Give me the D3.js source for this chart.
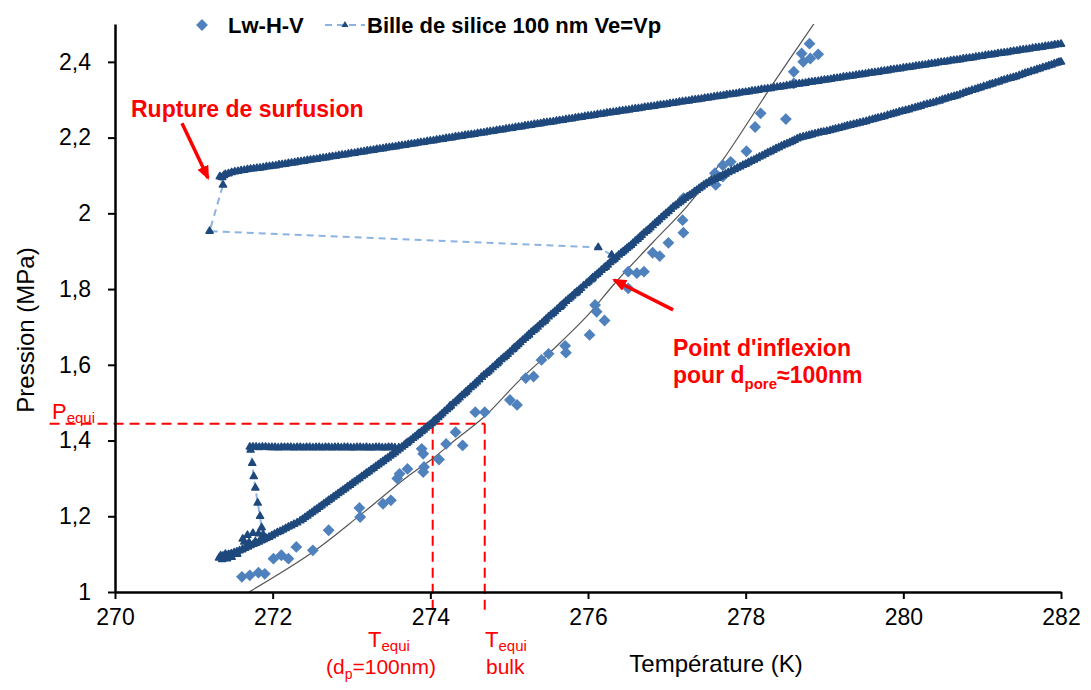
<!DOCTYPE html>
<html lang="fr">
<head>
<meta charset="utf-8">
<title>Pression / Température</title>
<script src="https://cdn.jsdelivr.net/npm/d3@7"></script>
<style>
  body { margin: 0; background: #fff; }
  svg { font-family: "Liberation Sans", Arial, sans-serif; }
</style>
</head>
<body>
<script>
var w = 1091, h = 690;

var xTicks = [270, 272, 274, 276, 278, 280, 282];
var yTicks = [1, 1.2, 1.4, 1.6, 1.8, 2, 2.2, 2.4];
var legendLabels = ["Lw-H-V", "Bille de silice 100 nm Ve=Vp"];

// "Bille de silice" trace
var upperBranch = [[282.00,2.447],[281.96,2.446],[281.92,2.445],[281.88,2.443],[281.84,2.442],[281.80,2.441],[281.76,2.439],[281.72,2.438],[281.68,2.437],[281.64,2.436],[281.60,2.434],[281.56,2.433],[281.52,2.432],[281.48,2.431],[281.44,2.429],[281.40,2.428],[281.36,2.427],[281.32,2.425],[281.28,2.424],[281.24,2.423],[281.20,2.422],[281.16,2.420],[281.12,2.419],[281.08,2.418],[281.04,2.417],[281.00,2.415],
  [280.96,2.414],[280.92,2.413],[280.88,2.411],[280.84,2.410],[280.80,2.409],[280.76,2.408],[280.72,2.406],[280.68,2.405],[280.64,2.404],[280.60,2.403],[280.56,2.401],[280.52,2.400],[280.48,2.399],[280.44,2.398],[280.40,2.396],[280.36,2.395],[280.32,2.394],[280.28,2.392],[280.24,2.391],[280.20,2.390],[280.16,2.389],[280.12,2.387],[280.08,2.386],[280.04,2.385],[280.00,2.384],
  [279.96,2.382],[279.92,2.381],[279.88,2.380],[279.84,2.379],[279.80,2.377],[279.76,2.376],[279.72,2.375],[279.68,2.373],[279.64,2.372],[279.60,2.371],[279.56,2.370],[279.52,2.368],[279.48,2.367],[279.44,2.366],[279.40,2.365],[279.36,2.363],[279.32,2.362],[279.28,2.361],[279.24,2.360],[279.20,2.358],[279.16,2.357],[279.12,2.356],[279.08,2.354],[279.04,2.353],[279.00,2.352],
  [278.96,2.351],[278.92,2.349],[278.88,2.348],[278.84,2.347],[278.80,2.346],[278.76,2.344],[278.72,2.343],[278.68,2.342],[278.64,2.341],[278.60,2.339],[278.56,2.338],[278.52,2.337],[278.48,2.335],[278.44,2.334],[278.40,2.333],[278.36,2.332],[278.32,2.330],[278.28,2.329],[278.24,2.328],[278.20,2.327],[278.16,2.325],[278.12,2.324],[278.08,2.323],[278.04,2.321],[278.00,2.320],
  [277.96,2.319],[277.92,2.318],[277.88,2.316],[277.84,2.315],[277.80,2.314],[277.76,2.313],[277.72,2.311],[277.68,2.310],[277.64,2.309],[277.60,2.308],[277.56,2.306],[277.52,2.305],[277.48,2.304],[277.44,2.302],[277.40,2.301],[277.36,2.300],[277.32,2.299],[277.28,2.297],[277.24,2.296],[277.20,2.295],[277.16,2.294],[277.12,2.292],[277.08,2.291],[277.04,2.290],[277.00,2.288],
  [276.96,2.287],[276.92,2.286],[276.88,2.285],[276.84,2.283],[276.80,2.282],[276.76,2.281],[276.72,2.280],[276.68,2.278],[276.64,2.277],[276.60,2.276],[276.56,2.275],[276.52,2.273],[276.48,2.272],[276.44,2.271],[276.40,2.270],[276.36,2.268],[276.32,2.267],[276.28,2.266],[276.24,2.265],[276.20,2.263],[276.16,2.262],[276.12,2.261],[276.08,2.259],[276.04,2.258],[276.00,2.257],
  [275.96,2.256],[275.92,2.254],[275.88,2.253],[275.84,2.252],[275.80,2.250],[275.76,2.249],[275.72,2.248],[275.68,2.246],[275.64,2.245],[275.60,2.244],[275.56,2.242],[275.52,2.241],[275.48,2.240],[275.44,2.239],[275.40,2.237],[275.36,2.236],[275.32,2.235],[275.28,2.233],[275.24,2.232],[275.20,2.231],[275.16,2.229],[275.12,2.228],[275.08,2.227],[275.04,2.225],[275.00,2.224],
  [274.96,2.223],[274.92,2.221],[274.88,2.220],[274.84,2.219],[274.80,2.217],[274.76,2.216],[274.72,2.215],[274.68,2.213],[274.64,2.212],[274.60,2.211],[274.56,2.209],[274.52,2.208],[274.48,2.207],[274.44,2.206],[274.40,2.204],[274.36,2.203],[274.32,2.202],[274.28,2.200],[274.24,2.199],[274.20,2.198],[274.16,2.196],[274.12,2.195],[274.08,2.194],[274.04,2.192],[274.00,2.191],
  [273.96,2.190],[273.92,2.188],[273.88,2.187],[273.84,2.186],[273.80,2.184],[273.76,2.183],[273.72,2.182],[273.68,2.180],[273.64,2.179],[273.60,2.178],[273.56,2.176],[273.52,2.175],[273.48,2.174],[273.44,2.173],[273.40,2.171],[273.36,2.170],[273.32,2.169],[273.28,2.167],[273.24,2.166],[273.20,2.165],[273.16,2.163],[273.12,2.162],[273.08,2.161],[273.04,2.159],[273.00,2.158],
  [272.96,2.157],[272.92,2.155],[272.88,2.154],[272.84,2.153],[272.80,2.151],[272.76,2.150],[272.72,2.149],[272.68,2.147],[272.64,2.146],[272.60,2.145],[272.56,2.143],[272.52,2.142],[272.48,2.141],[272.44,2.140],[272.40,2.138],[272.36,2.137],[272.32,2.136],[272.28,2.134],[272.24,2.133],[272.20,2.132],[272.16,2.130],[272.12,2.129],[272.08,2.128],[272.04,2.126],[272.00,2.125],
  [271.96,2.124],[271.92,2.123],[271.88,2.121],[271.84,2.120],[271.80,2.119],[271.76,2.118],[271.72,2.117],[271.68,2.116],[271.64,2.114],[271.60,2.113],[271.56,2.111],[271.52,2.110],[271.48,2.108],[271.44,2.105],[271.40,2.103],[271.38,2.100],[271.36,2.095],[271.33,2.097]];

var ruptureJump = [[271.37,2.075],[271.20,1.953],[276.13,1.910],[276.30,1.890]];

var descendingBranch = [[276.22,1.858],[276.05,1.827],[275.85,1.790],[275.65,1.754],[275.45,1.716],[275.25,1.679],[275.05,1.641],[274.85,1.604],[274.65,1.567],[274.45,1.528],[274.25,1.491],[274.05,1.452],[273.85,1.418],[273.70,1.393],[273.60,1.381]];

var plateau = [[273.55,1.381],[273.51,1.382],[273.47,1.382],[273.43,1.381],[273.39,1.381],[273.35,1.382],[273.31,1.382],[273.27,1.381],[273.23,1.381],[273.19,1.382],[273.15,1.381],[273.11,1.382],[273.07,1.382],[273.03,1.381],[272.99,1.381],[272.95,1.382],[272.91,1.382],[272.87,1.381],[272.83,1.382],[272.79,1.382],[272.75,1.381],[272.71,1.382],[272.67,1.382],[272.63,1.381],
  [272.59,1.382],[272.55,1.382],[272.51,1.381],[272.47,1.382],[272.43,1.382],[272.39,1.381],[272.35,1.382],[272.31,1.382],[272.27,1.381],[272.23,1.382],[272.19,1.382],[272.15,1.382],[272.11,1.382],[272.07,1.381],[272.03,1.382],[271.99,1.382],[271.95,1.382],[271.91,1.383],[271.87,1.383],[271.83,1.382],[271.79,1.383],[271.75,1.383],[271.71,1.383]];

var plateauDrop = [[271.72,1.375],[271.74,1.340],[271.76,1.305],[271.78,1.275],[271.81,1.235],[271.84,1.200],[271.86,1.170],[271.88,1.152]];

var smallLoop = [[271.82,1.154],[271.75,1.155],[271.68,1.150],[271.62,1.140],[271.64,1.132],[271.70,1.131],[271.78,1.133],[271.85,1.136]];

var lowCluster = [[271.55,1.100],[271.48,1.092],[271.42,1.088],[271.36,1.086],[271.32,1.090],[271.34,1.096],[271.40,1.100],[271.46,1.098]];

var ascendingBranch = [[271.37,1.095],[271.405,1.097],[271.44,1.099],[271.475,1.101],[271.51,1.104],[271.545,1.106],[271.58,1.109],[271.615,1.112],[271.65,1.116],[271.685,1.119],[271.72,1.123],[271.755,1.126],[271.79,1.129],[271.825,1.132],[271.86,1.136],[271.89,1.139],[271.92,1.142],[271.955,1.145],[271.99,1.149],[272.025,1.153],[272.06,1.157],[272.095,1.160],[272.13,1.164],[272.165,1.168],[272.20,1.172],[272.235,1.175],[272.27,1.179],[272.31,1.183],[272.35,1.188],
  [272.38,1.192],[272.41,1.197],[272.44,1.201],[272.47,1.206],[272.50,1.210],[272.53,1.215],[272.56,1.219],[272.59,1.224],[272.62,1.228],[272.65,1.233],[272.68,1.237],[272.71,1.242],[272.74,1.246],[272.77,1.251],[272.80,1.255],[272.83,1.260],[272.86,1.264],[272.89,1.269],[272.92,1.273],[272.95,1.278],[272.98,1.282],[273.01,1.287],[273.04,1.291],[273.07,1.296],[273.10,1.300],[273.13,1.305],[273.16,1.309],[273.19,1.314],[273.22,1.318],[273.25,1.323],[273.28,1.327],[273.31,1.332],[273.34,1.336],[273.37,1.341],[273.40,1.345],[273.43,1.350],[273.46,1.354],[273.49,1.359],[273.52,1.363],[273.55,1.368],[273.58,1.373],[273.61,1.378],
  [273.64,1.383],[273.67,1.388],[273.695,1.392],[273.72,1.396],[273.75,1.401],[273.78,1.406],[273.805,1.410],[273.83,1.414],[273.86,1.419],[273.89,1.424],[273.915,1.428],[273.94,1.433],[273.965,1.437],[273.99,1.441],[274.015,1.445],[274.04,1.450],
  [274.07,1.456],[274.10,1.461],[274.125,1.466],[274.15,1.471],[274.18,1.477],[274.21,1.482],[274.235,1.487],[274.26,1.492],[274.29,1.498],[274.32,1.503],[274.345,1.508],[274.37,1.513],[274.40,1.519],[274.43,1.524],[274.455,1.529],[274.48,1.534],[274.51,1.540],[274.54,1.545],[274.565,1.550],[274.59,1.555],[274.62,1.561],[274.65,1.567],[274.68,1.573],[274.71,1.578],
  [274.735,1.582],[274.76,1.587],[274.79,1.593],[274.82,1.598],[274.845,1.603],[274.87,1.608],[274.90,1.614],[274.93,1.619],[274.955,1.623],[274.98,1.628],[275.01,1.634],[275.04,1.640],[275.065,1.645],[275.09,1.649],[275.115,1.654],[275.14,1.659],[275.17,1.665],[275.20,1.670],[275.225,1.675],[275.25,1.680],[275.28,1.686],[275.31,1.691],[275.335,1.695],[275.36,1.700],[275.39,1.706],[275.42,1.711],[275.445,1.716],[275.47,1.721],[275.50,1.727],[275.53,1.732],[275.555,1.736],[275.58,1.741],[275.61,1.747],[275.64,1.752],[275.665,1.757],[275.69,1.762],[275.72,1.768],[275.75,1.773],[275.775,1.777],[275.80,1.782],[275.83,1.788],[275.86,1.793],[275.885,1.797],[275.91,1.802],[275.945,1.809],[275.98,1.815],
  [276.005,1.819],[276.03,1.824],[276.06,1.830],[276.09,1.835],[276.115,1.839],[276.14,1.844],[276.17,1.850],[276.20,1.855],[276.225,1.859],[276.25,1.864],[276.28,1.870],[276.31,1.875],[276.335,1.879],[276.36,1.884],[276.39,1.890],[276.42,1.895],[276.445,1.899],[276.47,1.903],[276.495,1.908],[276.52,1.912],[276.545,1.916],[276.57,1.921],
  [276.60,1.927],[276.63,1.932],[276.655,1.937],[276.68,1.942],[276.71,1.948],[276.74,1.953],[276.765,1.957],[276.79,1.962],[276.82,1.968],[276.85,1.974],[276.875,1.978],[276.90,1.983],[276.93,1.989],[276.96,1.994],[276.99,2.000],[277.02,2.005],[277.05,2.011],[277.08,2.017],
  [277.11,2.021],[277.14,2.026],[277.17,2.030],[277.20,2.035],[277.23,2.040],[277.26,2.044],[277.29,2.048],[277.32,2.052],[277.35,2.057],[277.38,2.061],[277.41,2.066],[277.44,2.070],[277.47,2.075],[277.50,2.079],[277.535,2.083],[277.57,2.086],[277.605,2.090],[277.64,2.093],[277.675,2.097],[277.71,2.100],[277.745,2.104],[277.78,2.108],[277.82,2.112],[277.86,2.116],[277.895,2.120],[277.93,2.123],[277.965,2.127],[278.00,2.130],[278.035,2.134],[278.07,2.138],[278.105,2.141],[278.14,2.145],[278.175,2.149],[278.21,2.152],[278.245,2.156],[278.28,2.160],[278.315,2.163],[278.35,2.167],
  [278.385,2.171],[278.42,2.174],[278.455,2.178],[278.49,2.181],[278.525,2.184],[278.56,2.187],[278.59,2.190],[278.62,2.193],[278.655,2.197],[278.69,2.200],
  [278.73,2.202],[278.77,2.204],[278.805,2.206],[278.84,2.208],[278.88,2.210],[278.92,2.212],[278.955,2.214],[278.99,2.215],[279.03,2.217],[279.07,2.219],[279.105,2.221],[279.14,2.223],[279.18,2.225],[279.22,2.227],[279.255,2.229],[279.29,2.231],[279.33,2.233],[279.37,2.235],[279.41,2.237],[279.45,2.239],[279.49,2.241],[279.53,2.243],
  [279.57,2.246],[279.61,2.248],[279.645,2.250],[279.68,2.252],[279.72,2.254],[279.76,2.256],[279.80,2.259],[279.84,2.261],[279.875,2.263],[279.91,2.265],[279.95,2.268],[279.99,2.270],[280.03,2.272],[280.07,2.274],[280.11,2.277],[280.15,2.279],[280.185,2.281],[280.22,2.283],[280.26,2.286],[280.30,2.288],[280.34,2.290],[280.38,2.292],
  [280.42,2.295],[280.46,2.297],[280.495,2.300],[280.53,2.302],[280.57,2.305],[280.61,2.307],[280.645,2.309],[280.68,2.311],[280.72,2.314],[280.76,2.317],[280.795,2.320],[280.83,2.322],[280.87,2.325],[280.91,2.327],[280.945,2.330],[280.98,2.332],[281.02,2.335],[281.06,2.337],[281.095,2.340],[281.13,2.342],[281.17,2.345],[281.21,2.347],[281.245,2.350],[281.28,2.352],[281.32,2.355],[281.36,2.357],[281.395,2.359],[281.43,2.361],[281.47,2.364],[281.51,2.367],[281.545,2.370],[281.58,2.372],[281.62,2.375],[281.66,2.377],[281.695,2.380],[281.73,2.382],[281.77,2.385],[281.81,2.387],[281.845,2.390],[281.88,2.392],[281.915,2.395],[281.95,2.397],[281.975,2.399],[282.00,2.400]];

// Lw-H-V points
var lwhv = [[271.61,1.040],[271.71,1.044],[271.82,1.051],[271.90,1.048],
  [272.01,1.088],[272.11,1.097],[272.20,1.088],[272.30,1.119],[272.51,1.110],[272.71,1.163],
  [273.10,1.222],[273.11,1.198],[273.40,1.233],[273.50,1.242],[273.58,1.300],[273.61,1.312],[273.71,1.325],
  [273.89,1.378],[273.91,1.365],[273.92,1.330],[273.91,1.317],
  [274.11,1.350],[274.20,1.391],[274.32,1.422],[274.41,1.387],
  [274.57,1.475],[274.69,1.475],[275.01,1.507],[275.10,1.494],[275.21,1.565],[275.31,1.569],[275.41,1.613],[275.50,1.629],[275.71,1.650],[275.72,1.632],
  [276.02,1.679],[276.09,1.758],[276.11,1.740],[276.21,1.717],[276.51,1.802],[276.51,1.846],[276.62,1.842],[276.71,1.846],[276.82,1.896],[276.91,1.887],[277.02,1.922],
  [277.21,1.949],[277.20,1.982],[277.21,2.040],
  [277.61,2.106],[277.62,2.075],[277.71,2.097],[277.71,2.127],[277.81,2.136],[278.01,2.164],[278.12,2.228],[278.19,2.264],[278.51,2.249],
  [278.61,2.343],[278.61,2.374],[278.71,2.422],[278.73,2.400],[278.81,2.448],[278.82,2.409],[278.92,2.420]];

// thin black equilibrium curve
var bulkCurve = [[271.70,1.000],[272.52,1.107],[273.11,1.203],[273.70,1.303],[274.04,1.354],[274.33,1.404],[274.68,1.462],[275.14,1.561],[275.56,1.641],[275.98,1.727],[276.36,1.820],[276.83,1.925],[277.25,2.017],[277.71,2.141],[278.35,2.343],[278.88,2.505]];

// annotation values
var pEqui = 1.444, tEquiPore = 274.03, tEquiBulk = 274.69;

var billeSeries = [].concat(upperBranch, ruptureJump, descendingBranch, plateau, plateauDrop, smallLoop, lowCluster, ascendingBranch);

var x = d3.scaleLinear().domain([270, 282]).range([115, 1061]);
var y = d3.scaleLinear().domain([1, 2.5]).range([592, 24]);

var svg = d3.select("body").append("svg")
    .attr("width", w)
    .attr("height", h);

var defs = svg.append("defs");
defs.append("clipPath").attr("id", "plot")
  .append("rect")
    .attr("x", x(270)).attr("y", y(2.5))
    .attr("width", x(282) - x(270)).attr("height", y(1) - y(2.5));
defs.append("marker")
    .attr("id", "redhead")
    .attr("markerUnits", "userSpaceOnUse")
    .attr("viewBox", "0 0 14 12")
    .attr("refX", 12).attr("refY", 6)
    .attr("markerWidth", 14).attr("markerHeight", 12)
    .attr("orient", "auto")
  .append("path")
    .attr("d", "M0,0 L14,6 L0,12 Z")
    .attr("fill", "#ff0000");

// red dashed guide lines
var red = "#ff0000";
svg.append("line")
    .attr("x1", x(269.17)).attr("x2", x(tEquiBulk))
    .attr("y1", y(pEqui)).attr("y2", y(pEqui))
    .attr("stroke", red).attr("stroke-width", 2).attr("stroke-dasharray", "10,6");
[tEquiPore, tEquiBulk].forEach(function(t) {
  svg.append("line")
      .attr("x1", x(t)).attr("x2", x(t))
      .attr("y1", y(pEqui)).attr("y2", y(0.948))
      .attr("stroke", red).attr("stroke-width", 2).attr("stroke-dasharray", "10,6");
});

// black curve
var line = d3.line()
    .x(function(d) { return x(d[0]); })
    .y(function(d) { return y(d[1]); });

svg.append("path")
    .datum(bulkCurve)
    .attr("clip-path", "url(#plot)")
    .attr("d", line.curve(d3.curveCatmullRom))
    .attr("fill", "none")
    .attr("stroke", "#555")
    .attr("stroke-width", 1.2);

// diamonds
var diamond = d3.symbol().type(d3.symbolSquare).size(70);
svg.selectAll("path.lw")
    .data(lwhv)
    .enter()
    .append("path")
    .attr("class", "lw")
    .attr("d", diamond)
    .attr("transform", function(d) {
      return "translate(" + x(d[0]) + "," + y(d[1]) + ") rotate(45)";
    })
    .attr("fill", "#4f81bd");

// dashed connecting line of the silica trace
svg.append("path")
    .datum(billeSeries)
    .attr("d", d3.line().x(function(d) { return x(d[0]); }).y(function(d) { return y(d[1]); }))
    .attr("fill", "none")
    .attr("stroke", "#8db3e2")
    .attr("stroke-width", 2)
    .attr("stroke-dasharray", "7,5");

var tri = d3.symbol().type(d3.symbolTriangle).size(22);
svg.selectAll("path.bille")
    .data(billeSeries)
    .enter()
    .append("path")
    .attr("class", "bille")
    .attr("d", tri)
    .attr("transform", function(d) { return "translate(" + x(d[0]) + "," + y(d[1]) + ")"; })
    .attr("fill", "#1f497d")
    .attr("stroke", "#1f497d")
    .attr("stroke-width", 1.5)
    .attr("stroke-linejoin", "round");

// axes
var xAxis = d3.axisBottom(x).tickValues(xTicks).tickSize(7).tickSizeOuter(0).tickPadding(10);
var yAxis = d3.axisLeft(y).tickValues(yTicks).tickSize(7).tickSizeOuter(0).tickPadding(17)
    .tickFormat(function(d) { return String(d).replace(".", ","); });

var gx = svg.append("g").attr("transform", "translate(0," + y(1) + ")").call(xAxis);
var gy = svg.append("g").attr("transform", "translate(" + x(270) + ",0)").call(yAxis);
[gx, gy].forEach(function(g) {
  g.select(".domain").attr("stroke", "#000").attr("stroke-width", 2.5);
  g.selectAll(".tick line").attr("stroke", "#000").attr("stroke-width", 2);
  g.selectAll(".tick text").attr("fill", "#000")
    .style("font-size", "23px")
    .style("font-family", "'Liberation Sans', Arial, sans-serif");
});

// axis titles
svg.append("text")
    .attr("x", 716).attr("y", 672)
    .attr("text-anchor", "middle")
    .style("font-size", "24px")
    .text("Température (K)");
svg.append("text")
    .attr("transform", "translate(34,330) rotate(-90)")
    .attr("text-anchor", "middle")
    .style("font-size", "24px")
    .text("Pression (MPa)");

// legend
var lg = svg.append("g");
lg.append("path").attr("d", diamond)
    .attr("transform", "translate(202,25) rotate(45)")
    .attr("fill", "#4f81bd");
lg.append("text").attr("x", 228).attr("y", 33)
    .style("font-size", "22px").style("font-weight", "bold")
    .text(legendLabels[0]);
lg.append("line").attr("x1", 325).attr("x2", 365).attr("y1", 25).attr("y2", 25)
    .attr("stroke", "#8db3e2").attr("stroke-width", 2).attr("stroke-dasharray", "7,5");
lg.append("path").attr("d", tri)
    .attr("transform", "translate(345,25)")
    .attr("fill", "#1f497d");
lg.append("text").attr("x", 367).attr("y", 33)
    .style("font-size", "22px").style("font-weight", "bold")
    .text(legendLabels[1]);

// red annotations
svg.append("text")
    .attr("x", 131).attr("y", 117)
    .attr("fill", red)
    .style("font-size", "23px").style("font-weight", "bold")
    .text("Rupture de surfusion");
svg.append("line")
    .attr("x1", x(270.85)).attr("y1", y(2.238))
    .attr("x2", x(271.18)).attr("y2", y(2.093))
    .attr("stroke", red).attr("stroke-width", 3.5)
    .attr("marker-end", "url(#redhead)");

svg.append("line")
    .attr("x1", x(277.08)).attr("y1", y(1.745))
    .attr("x2", x(276.33)).attr("y2", y(1.824))
    .attr("stroke", red).attr("stroke-width", 3.5)
    .attr("marker-end", "url(#redhead)");
var pi = svg.append("text")
    .attr("fill", red)
    .style("font-size", "23px").style("font-weight", "bold");
pi.append("tspan").attr("x", 673).attr("y", 356).text("Point d'inflexion");
pi.append("tspan").attr("x", 673).attr("y", 383).text("pour d");
pi.append("tspan").attr("dy", 6).style("font-size", "15px").text("pore");
pi.append("tspan").attr("dy", -6).text("≈100nm");

var pe = svg.append("text").attr("fill", red).attr("x", 52).attr("y", 419);
pe.append("tspan").style("font-size", "22px").text("P");
pe.append("tspan").attr("dy", 4).style("font-size", "15px").text("equi");

var t1 = svg.append("text").attr("fill", red).attr("x", 368).attr("y", 647);
t1.append("tspan").style("font-size", "22px").text("T");
t1.append("tspan").attr("dy", 4).style("font-size", "15px").text("equi");
var t1b = svg.append("text").attr("fill", red).attr("x", 326).attr("y", 674).style("font-size", "21px");
t1b.append("tspan").text("(d");
t1b.append("tspan").attr("dy", 5).style("font-size", "14px").text("p");
t1b.append("tspan").attr("dy", -5).text("=100nm)");

var t2 = svg.append("text").attr("fill", red).attr("x", 485).attr("y", 647);
t2.append("tspan").style("font-size", "22px").text("T");
t2.append("tspan").attr("dy", 4).style("font-size", "15px").text("equi");
svg.append("text").attr("fill", red).attr("x", 486).attr("y", 674)
    .style("font-size", "21px").text("bulk");
</script>
</body>
</html>
